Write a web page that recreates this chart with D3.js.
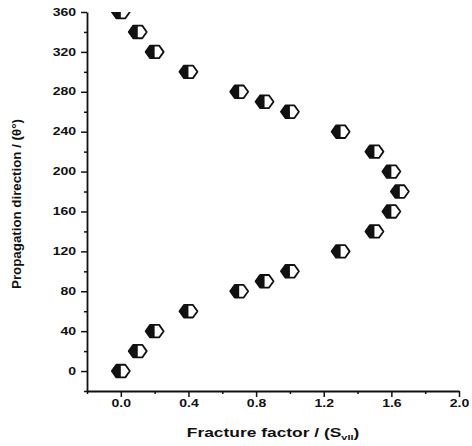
<!DOCTYPE html>
<html>
<head>
<meta charset="utf-8">
<script src="https://cdn.jsdelivr.net/npm/d3@7"></script>
<style>
  html, body { margin: 0; padding: 0; background: #fff; }
  svg { display: block; font-family: "Liberation Sans", Arial, sans-serif; }
</style>
</head>
<body>
<svg id="chart" width="472" height="446"></svg>
<script>
// Fracture factor versus crack propagation direction
const fractureFactor = [0.0, 0.1, 0.2, 0.4, 0.7, 0.85, 1.0, 1.3, 1.5, 1.6, 1.65,
                        1.6, 1.5, 1.3, 1.0, 0.85, 0.7, 0.4, 0.2, 0.1, 0.0];
const direction = [0, 20, 40, 60, 80, 90, 100, 120, 140, 160, 180,
                   200, 220, 240, 260, 270, 280, 300, 320, 340, 360];
const xTicks = [0.0, 0.4, 0.8, 1.2, 1.6, 2.0];
const yTicks = [0, 40, 80, 120, 160, 200, 240, 280, 320, 360];

const svg = d3.select("#chart");
const plotLeft = 87, plotRight = 459, plotTop = 12, plotBottom = 391;
const wide = 1.4; // horizontal widening of the label glyphs

const x = d3.scaleLinear().domain([-0.2, 2.0]).range([plotLeft, plotRight]);
const y = d3.scaleLinear().domain([-20, 360]).range([plotBottom, plotTop]);

// minor ticks
const xMinor = d3.range(-0.2, 2.0001, 0.2).filter(v => !xTicks.some(t => Math.abs(t - v) < 1e-6));
const yMinor = d3.range(-20, 361, 20).filter(v => !yTicks.includes(v));

svg.append("g").attr("transform", `translate(0,${plotBottom})`)
  .call(d3.axisBottom(x).tickValues(xTicks).tickFormat(d3.format(".1f")).tickSizeInner(6).tickSizeOuter(0).tickPadding(3));
svg.append("g").attr("transform", `translate(0,${plotBottom})`)
  .call(d3.axisBottom(x).tickValues(xMinor).tickFormat("").tickSizeInner(3).tickSizeOuter(0))
  .select(".domain").remove();

svg.append("g").attr("transform", `translate(${plotLeft},0)`)
  .call(d3.axisLeft(y).tickValues(yTicks).tickFormat(d3.format("d")).tickSizeInner(6).tickSizeOuter(0).tickPadding(5));
svg.append("g").attr("transform", `translate(${plotLeft},0)`)
  .call(d3.axisLeft(y).tickValues(yMinor).tickFormat("").tickSizeInner(3).tickSizeOuter(0))
  .select(".domain").remove();

svg.selectAll(".domain").attr("stroke", "#111").attr("stroke-width", 1.8);
svg.selectAll(".tick line").attr("stroke", "#111").attr("stroke-width", 1.5);
svg.selectAll(".tick text").attr("fill", "#111").attr("font-size", 10).attr("font-weight", "bold")
  .attr("font-family", "'Liberation Sans', Arial, sans-serif")
  .each(function () {
    const w = this.getComputedTextLength();
    d3.select(this).attr("textLength", w * wide).attr("lengthAdjust", "spacingAndGlyphs");
  });

// clip markers to the plot area
svg.append("clipPath").attr("id", "plotClip")
  .append("rect").attr("x", plotLeft).attr("y", plotTop).attr("width", plotRight - plotLeft + 20).attr("height", plotBottom - plotTop);

const hw = 9, hh = 6.3, hq = 4.5;
const hexPath = `M${-hw},0 L${-hq},${-hh} L${hq},${-hh} L${hw},0 L${hq},${hh} L${-hq},${hh} Z`;
const halfPath = `M${-hw},0 L${-hq},${-hh} L0,${-hh} L0,${hh} L${-hq},${hh} Z`;

const pts = svg.append("g").attr("clip-path", "url(#plotClip)")
  .selectAll("g.pt").data(direction.map((d, i) => ({ f: fractureFactor[i], d })))
  .join("g").attr("class", "pt")
  .attr("transform", p => `translate(${x(p.f)},${y(p.d)})`);
pts.append("path").attr("d", hexPath).attr("fill", "#fff").attr("stroke", "#111").attr("stroke-width", 1.8).attr("stroke-linejoin", "round");
pts.append("path").attr("d", halfPath).attr("fill", "#111");

// axis titles
const xt = svg.append("text").attr("transform", `translate(273,437) scale(${wide + 0.05},1)`)
  .attr("text-anchor", "middle")
  .attr("font-size", 12).attr("font-weight", "bold").attr("fill", "#111");
xt.append("tspan").text("Fracture factor / (S");
xt.append("tspan").attr("font-size", 7.5).attr("dy", 3).text("vII");
xt.append("tspan").attr("dy", -3).text(")");

svg.append("text").attr("transform", "translate(20.5,204) rotate(-90)").attr("text-anchor", "middle")
  .attr("font-size", 13.3).attr("font-weight", "bold").attr("fill", "#111")
  .text("Propagation direction / (θ°)");
</script>
</body>
</html>
